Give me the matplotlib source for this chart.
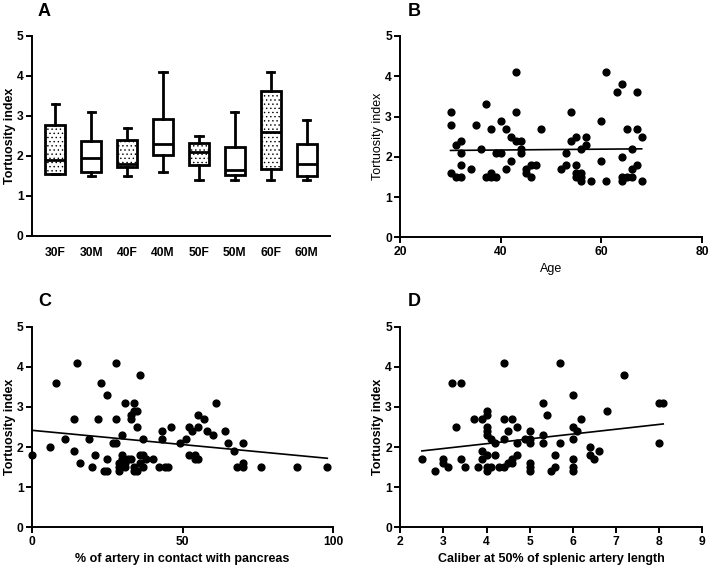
import numpy as np
import matplotlib
matplotlib.use("Agg")
import matplotlib.pyplot as plt

plt.rcParams['font.family'] = ['Liberation Sans', 'DejaVu Sans']
plt.rcParams['hatch.color'] = '#707070'
plt.rcParams['hatch.linewidth'] = 0.5

# Panel A: box plot summaries
groups = ["30F", "30M", "40F", "40M", "50F", "50M", "60F", "60M"]
whisk_lo = [1.55, 1.5, 1.5, 1.6, 1.4, 1.4, 1.4, 1.4]
q1 = [1.55, 1.6, 1.72, 2.02, 1.78, 1.52, 1.68, 1.5]
median = [1.9, 1.95, 1.8, 2.3, 2.1, 1.65, 2.6, 1.8]
q3 = [2.78, 2.38, 2.4, 2.93, 2.33, 2.22, 3.63, 2.3]
whisk_hi = [3.3, 3.1, 2.7, 4.1, 2.5, 3.1, 4.1, 2.9]
dotted = [True, False, True, False, True, False, True, False]

# Panel B: age vs tortuosity
age = [30, 30, 30, 31, 31, 32, 32, 32, 32, 34, 35, 36, 37, 37, 38, 38, 38, 39, 39,
       40, 40, 41, 41, 42, 42, 43, 43, 43, 44, 44, 44, 45, 45, 46, 46, 47, 48,
       52, 53, 53, 54, 54, 55, 55, 55, 55, 56, 56, 56, 56, 57, 57, 58, 60, 60,
       61, 61, 63, 64, 64, 64, 64, 65, 65, 66, 66, 66, 67, 67, 67, 68, 68]
ti_age = [3.1, 2.8, 1.6, 2.3, 1.5, 2.4, 2.1, 1.8, 1.5, 1.7, 2.8, 2.2, 3.3, 1.5, 2.7, 1.6, 1.5, 2.1, 1.5,
          2.9, 2.1, 2.7, 1.7, 2.5, 1.9, 4.1, 3.1, 2.4, 2.4, 2.2, 2.1, 1.7, 1.6, 1.8, 1.5, 1.8, 2.7,
          1.7, 2.1, 1.8, 3.1, 2.4, 2.5, 1.8, 1.6, 1.5, 2.2, 1.6, 1.5, 1.4, 2.5, 2.3, 1.4, 2.9, 1.9,
          4.1, 1.4, 3.6, 3.8, 2.0, 1.5, 1.4, 2.7, 1.5, 2.2, 1.7, 1.5, 3.6, 2.7, 1.8, 2.5, 1.4]

# Panel C: % contact with pancreas
contact = [0, 6, 8, 11, 14, 14, 15, 16, 19, 20, 21, 22, 23, 24, 25, 25, 25, 28, 28, 27,
           28, 29, 29, 29, 30, 30, 30, 31, 31, 31, 32, 33, 33, 33, 34, 34, 34, 34, 35, 35,
           35, 36, 36, 36, 37, 37, 37, 38, 40, 42, 43, 43, 44, 45, 46, 49, 51, 52, 52, 53,
           54, 54, 55, 55, 55, 57, 58, 60, 61, 64, 65, 67, 68, 70, 70, 70, 76, 88, 98]
ti_contact = [1.8, 2.0, 3.6, 2.2, 2.7, 1.9, 4.1, 1.6, 2.2, 1.5, 1.8, 2.7, 3.6, 1.4, 3.3, 1.7, 1.4, 4.1, 2.7, 2.1,
              2.1, 1.4, 1.5, 1.6, 2.3, 1.8, 1.7, 1.6, 1.5, 3.1, 1.7, 2.8, 2.7, 1.7, 2.9, 3.1, 1.5, 1.4, 2.9, 2.5,
              1.4, 3.8, 1.6, 1.8, 2.2, 1.8, 1.5, 1.7, 1.7, 1.5, 2.4, 2.2, 1.5, 1.5, 2.5, 2.1, 2.2, 2.5, 1.8, 2.4,
              1.8, 1.7, 2.8, 2.5, 1.7, 2.7, 2.4, 2.3, 3.1, 2.4, 2.1, 1.9, 1.5, 2.1, 1.6, 1.5, 1.5, 1.5, 1.5]

# Panel D: caliber at 50% of splenic artery length
caliber = [2.5, 2.8, 3.0, 3.0, 3.1, 3.2, 3.4, 3.3, 3.4, 3.5, 3.7, 3.8, 3.9, 3.9, 3.9,
           4.0, 4.0, 4.0, 4.0, 4.0, 4.0, 4.0, 4.0, 4.1, 4.1, 4.2, 4.2, 4.3, 4.4, 4.4, 4.4, 4.4,
           4.5, 4.5, 4.6, 4.6, 4.6, 4.7, 4.7, 4.7, 4.9, 5.0, 5.0, 5.0, 5.0, 5.0, 5.0,
           5.3, 5.3, 5.3, 5.4, 5.5, 5.6, 5.6, 5.7, 5.7, 6.0, 6.0, 6.0, 6.0, 6.0, 6.0,
           6.1, 6.2, 6.4, 6.4, 6.5, 6.6, 6.8, 7.2, 8.0, 8.1, 8.0]
ti_caliber = [1.7, 1.4, 1.7, 1.6, 1.5, 3.6, 3.6, 2.5, 1.7, 1.5, 2.7, 1.5, 2.7, 1.9, 1.7,
              2.9, 2.8, 2.5, 2.4, 2.3, 1.8, 1.5, 1.4, 2.2, 1.5, 2.1, 1.8, 1.5, 4.1, 2.7, 2.2, 1.5,
              2.4, 1.6, 2.7, 1.7, 1.6, 2.5, 2.1, 1.8, 2.2, 2.4, 2.2, 2.1, 1.6, 1.5, 1.4,
              3.1, 2.3, 2.1, 2.8, 1.4, 1.8, 1.5, 4.1, 2.1, 3.3, 2.5, 2.2, 1.7, 1.5, 1.4,
              2.4, 2.7, 2.0, 1.8, 1.7, 1.9, 2.9, 3.8, 3.1, 3.1, 2.1]

W, H = 709, 568
fig = plt.figure(figsize=(W / 100, H / 100), dpi=100)


def make_ax(x0, x1, y0, y1):
    return fig.add_axes([x0 / W, 1 - y0 / H, (x1 - x0) / W, (y0 - y1) / H])


def style(ax):
    for s in ['top', 'right']:
        ax.spines[s].set_visible(False)
    for s in ['left', 'bottom']:
        ax.spines[s].set_linewidth(1.4)
    ax.tick_params(width=1.4, length=4, labelsize=8.7, pad=2)
    for lab in ax.get_xticklabels() + ax.get_yticklabels():
        lab.set_fontweight('bold')


axA = make_ax(32, 330, 236, 36)
axB = make_ax(400.3, 702, 237.3, 36)
axC = make_ax(32, 333.3, 527.3, 326.7)
axD = make_ax(400.3, 702, 527.3, 326.7)

# Panel A
stats = []
for i, g in enumerate(groups):
    stats.append(dict(label=g, whislo=whisk_lo[i], q1=q1[i], med=median[i],
                      q3=q3[i], whishi=whisk_hi[i], fliers=[]))
pos = np.arange(1, len(groups) + 1)
bp = axA.bxp(stats, positions=pos, widths=0.55, patch_artist=True, showfliers=False,
             boxprops=dict(linewidth=2, edgecolor='black', facecolor='white'),
             medianprops=dict(color='black', linewidth=2),
             whiskerprops=dict(linewidth=2, color='black'),
             capprops=dict(linewidth=2, color='black'), capwidths=0.2)
for patch, d in zip(bp['boxes'], dotted):
    if d:
        patch.set_hatch('....')
axA.set_xlim(0.35, 8.65)
axA.set_ylim(0, 5)
axA.set_yticks([0, 1, 2, 3, 4, 5])
axA.set_ylabel('Tortuosity index', fontsize=9, fontweight='bold', labelpad=1)
style(axA)
axA.tick_params(axis='x', length=0, pad=8)


def scatter_panel(ax, x, y, xlim, xticks, xlabel, weight):
    x = np.asarray(x, float)
    y = np.asarray(y, float)
    ax.scatter(x, y, s=24, color='black', zorder=3, clip_on=False)
    k, b = np.polyfit(x, y, 1)
    xs = np.array([x.min(), x.max()])
    ax.plot(xs, k * xs + b, color='black', linewidth=1.2, zorder=2)
    ax.set_xlim(*xlim)
    ax.set_ylim(0, 5)
    ax.set_xticks(xticks)
    ax.set_yticks([0, 1, 2, 3, 4, 5])
    ax.set_xlabel(xlabel, fontsize=9, fontweight=weight, labelpad=4)
    ax.set_ylabel('Tortuosity index', fontsize=9, fontweight=weight, labelpad=1)
    style(ax)


scatter_panel(axB, age, ti_age, (20, 80), [20, 40, 60, 80], 'Age', 'normal')
scatter_panel(axC, contact, ti_contact, (0, 100), [0, 50, 100],
              '% of artery in contact with pancreas', 'bold')
scatter_panel(axD, caliber, ti_caliber, (2, 9), [2, 3, 4, 5, 6, 7, 8, 9],
              'Caliber at 50% of splenic artery length', 'bold')

for lbl, x, y in [('A', 38, 12), ('B', 408, 12), ('C', 38, 301), ('D', 408, 301)]:
    fig.text(x / W, 1 - y / H, lbl, fontsize=13, fontweight='bold', ha='left', va='center')

fig.savefig('out.png', dpi=100, facecolor='white')
